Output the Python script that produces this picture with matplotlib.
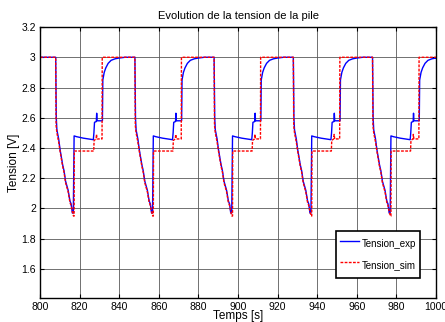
import numpy as np
import matplotlib
matplotlib.use('Agg')
import matplotlib.pyplot as plt

plt.rcParams['font.family'] = ['Liberation Sans', 'DejaVu Sans']

# start time of each discharge (s)
cycle_starts = [807.9, 847.9, 887.9, 927.9, 967.9]

# one cycle, times relative to cycle start
exp_dt = [0.0, 0.3, 0.6, 1.5, 2.2, 3.5, 4.2, 5.0, 6.3, 7.2, 7.8, 8.4, 8.9, 9.3, 10.5, 14.0, 19.0,
          19.3, 19.6, 20.5, 20.7, 20.9, 21.2, 23.6, 23.8, 24.5, 25.3, 26.5, 28.0, 30.0, 32.0, 35.0]
exp_v = [3.0, 2.6, 2.52, 2.46, 2.39, 2.29, 2.25, 2.18, 2.12, 2.05, 2.03, 1.97, 1.97, 2.48, 2.475, 2.465, 2.455,
         2.5, 2.57, 2.575, 2.63, 2.58, 2.58, 2.58, 2.85, 2.9, 2.93, 2.96, 2.98, 2.99, 2.995, 3.0]

sim_dt = [0.0, 0.2, 0.6, 1.5, 2.2, 3.5, 4.2, 5.0, 6.3, 7.2, 7.8, 8.4, 9.0, 9.3, 9.4, 19.2,
          19.4, 20.4, 20.6, 20.9, 23.4, 23.5, 40.0]
sim_v = [3.0, 2.55, 2.5, 2.44, 2.38, 2.28, 2.24, 2.17, 2.11, 2.04, 2.02, 1.98, 1.95, 1.95, 2.38, 2.38,
         2.45, 2.46, 2.49, 2.46, 2.46, 3.0, 3.0]

t_exp, v_exp = [800.0], [3.0]
t_sim, v_sim = [800.0], [3.0]
for t0 in cycle_starts:
    for dt, v in zip(exp_dt, exp_v):
        t_exp.append(t0 + dt)
        v_exp.append(v)
    for dt, v in zip(sim_dt, sim_v):
        t_sim.append(t0 + dt)
        v_sim.append(v)
t_exp.append(1000.0); v_exp.append(2.995)

fig = plt.figure(figsize=(4.45, 3.22), dpi=100)
ax = fig.add_axes([0.09, 0.0755, 0.89, 0.8405])

ax.plot(t_exp, v_exp, '-', color='#0000ff', linewidth=1.0, label='Tension_exp')
ax.plot(t_sim, v_sim, '--', color='#ff0000', linewidth=1.0, dashes=(2, 1), label='Tension_sim')

ax.set_xlim(800, 1000)
ax.set_ylim(1.41, 3.2)
ax.set_xticks(np.arange(800, 1001, 20))
ax.set_yticks([1.6, 1.8, 2.0, 2.2, 2.4, 2.6, 2.8, 3.0, 3.2])
ax.set_yticklabels(['1.6', '1.8', '2', '2.2', '2.4', '2.6', '2.8', '3', '3.2'])
ax.grid(True, color='0.35', linewidth=0.6, linestyle='-')
ax.tick_params(direction='in', top=True, right=True, length=3, labelsize=7.5, pad=3)
for s in ax.spines.values():
    s.set_linewidth(1.0)

ax.set_title('Evolution de la tension de la pile', fontsize=8, pad=6)
ax.set_xlabel('Temps [s]', fontsize=8.5, labelpad=-1)
ax.set_ylabel('Tension [V]', fontsize=8.5, labelpad=1)

leg = ax.legend(loc='lower left', bbox_to_anchor=(0.747, 0.073), fontsize=7, fancybox=False,
                framealpha=1, edgecolor='k', labelspacing=0.29, handleheight=2.5, handlelength=2.0,
                borderpad=0.4, handletextpad=0.3, borderaxespad=0)
leg.get_frame().set_linewidth(1.2)

fig.savefig('out.png', dpi=100)
